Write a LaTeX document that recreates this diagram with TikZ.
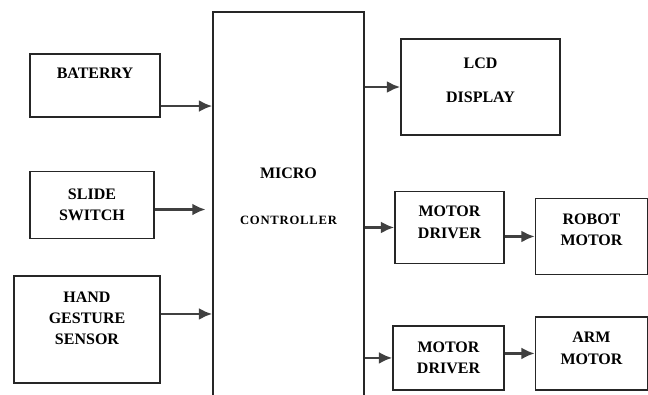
\documentclass[tikz,border=0pt]{standalone}
\usepackage{fontspec}
\setmainfont{Liberation Serif}
\usepackage{tikz}
\usetikzlibrary{%
  arrows.meta,
  positioning}
\tikzset{
  %% General block boxes
  blockbox/.style={
    rectangle, draw=black!85, line width=1.1pt,
    align=center, inner sep=2pt,
    font=\fontsize{12}{16}\selectfont\bfseries},
  %% Micro controller box
  mcubox/.style={
    blockbox,
    minimum width=113.25pt, minimum height=298.5pt},
  %% Arrows
  arrow/.style={-{Latex[length=10pt,width=9pt]}, line width=2pt, black!75},
}
\newcommand{\ctrlfont}{\fontsize{9.5}{16}\selectfont\addfontfeature{LetterSpace=6}}

\begin{document}
\begin{tikzpicture}[x=0.75pt, y=-0.75pt]

  \clip (0,0) rectangle (648,394);

  %% Micro controller
  \node[mcubox] (mcu) at (288.5,211)
        {MICRO\\[18.5pt]{\ctrlfont CONTROLLER}\\[6.5pt]~};

  %% Input blocks
  \node[blockbox, minimum width=97.5pt, minimum height=47.25pt] (bat)
        at (95,85.5) {BATERRY\\[3pt]~};
  \node[blockbox, minimum width=93pt, minimum height=50.25pt,
        below=39.75pt of bat.south west, anchor=north west] (slide)
        {SLIDE\\SWITCH};
  \node[blockbox, minimum width=109.5pt, minimum height=80.25pt,
        below=27pt of slide.south west, anchor=north west, xshift=-12pt] (hand)
        {HAND\\GESTURE\\SENSOR\\[1pt]~};

  \draw[arrow] ([yshift=-15.4pt]bat.east) coordinate (batout) -- (batout -| mcu.west);
  \draw[arrow, shorten >=5pt] ([yshift=-3.4pt]slide.east) coordinate (slideout)
        -- (slideout -| mcu.west);
  \draw[arrow] ([yshift=11.6pt]hand.east) coordinate (handout) -- (handout -| mcu.west);

  %% Output blocks
  \node[blockbox, minimum width=119.25pt, minimum height=72pt] (lcd)
        at (480.5,87) {LCD\\[10pt]DISPLAY\\[-6pt]~};
  \node[blockbox, minimum width=81.75pt, minimum height=54pt,
        below=41.25pt of lcd.south west, anchor=north west, xshift=-4.5pt] (drv1)
        {MOTOR\\DRIVER\\[-8pt]~};
  \node[blockbox, minimum width=84pt, minimum height=57pt,
        right=22.5pt of drv1.north east, anchor=north west, yshift=-5.25pt] (robot)
        {ROBOT\\MOTOR\\[-5.5pt]~};
  \node[blockbox, minimum width=83.25pt, minimum height=48pt,
        below=45.75pt of drv1.south west, anchor=north west, xshift=-1.5pt] (drv2)
        {MOTOR\\DRIVER};
  \node[blockbox, minimum width=84pt, minimum height=54.75pt,
        right=22.5pt of drv2.north east, anchor=north west, yshift=6.75pt] (arm)
        {ARM\\MOTOR\\[-8pt]~};

  \draw[arrow] (lcd.west -| mcu.east)    -- (lcd.west);
  \draw[arrow] (drv1.west -| mcu.east)   -- (drv1.west);
  \draw[arrow] (robot.west -| drv1.east) -- (robot.west);
  \draw[arrow] (drv2.west -| mcu.east)   -- (drv2.west);
  \draw[arrow] (arm.west -| drv2.east)   -- (arm.west);

\end{tikzpicture}
\end{document}
